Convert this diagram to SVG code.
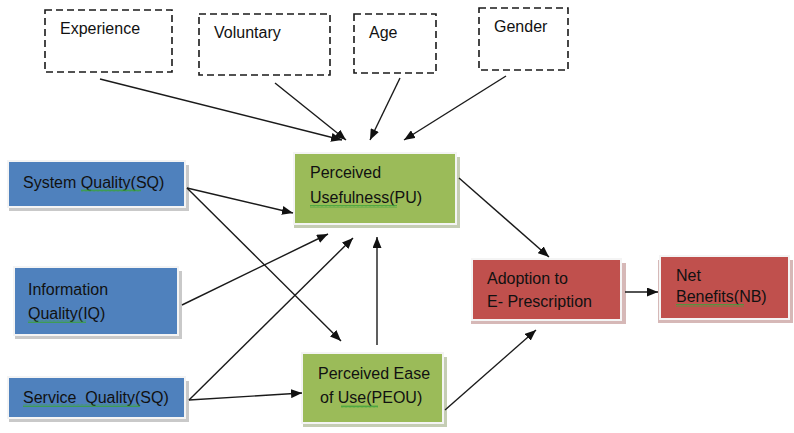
<svg xmlns="http://www.w3.org/2000/svg" width="794" height="433" viewBox="0 0 794 433">
  <style>
    text { font-family: "Liberation Sans", Arial, sans-serif; font-size: 16px; fill: #111111; white-space: pre; }
    .dash { fill: #ffffff; stroke: #1a1a1a; stroke-width: 1.6; stroke-dasharray: 7 4; }
    .shadow { fill: #c9c9c9; }
    .blue { fill: #4f81bd; stroke: #f4f4f4; stroke-width: 2; }
    .green { fill: #9bbb59; stroke: #f4f4f4; stroke-width: 2; }
    .red { fill: #c0504d; stroke: #f4f4f4; stroke-width: 2; }
    .shadow-g { fill: #c5cdb4; }
    .shadow-r { fill: #d6b8b7; }
    .edge { stroke: #1a1a1a; stroke-width: 1.4; fill: none; marker-end: url(#arrow); }
    .wave { fill: url(#squiggle); }
  </style>
  <defs>
    <marker id="arrow" viewBox="0 0 11 9" refX="11" refY="4.5" markerWidth="11" markerHeight="9" markerUnits="userSpaceOnUse" orient="auto">
      <path d="M0,0 L11,4.5 L0,9 z" fill="#111111"/>
    </marker>
    <pattern id="squiggle" width="4" height="3" patternUnits="userSpaceOnUse">
      <path d="M0,2.5 L1,0.5 L2,2.5 L3,0.5 L4,2.5" fill="none" stroke="#3aa33a" stroke-width="0.8"/>
    </pattern>
  </defs>

  <rect width="794" height="433" fill="#ffffff"/>

  <!-- moderating factors -->
  <g id="experience">
    <rect class="dash" x="45" y="10" width="127" height="62"/>
    <text x="60" y="34">Experience</text>
  </g>
  <g id="voluntary">
    <rect class="dash" x="199" y="14" width="131" height="61"/>
    <text x="214" y="38">Voluntary</text>
  </g>
  <g id="age">
    <rect class="dash" x="354" y="14" width="82" height="59"/>
    <text x="369" y="38">Age</text>
  </g>
  <g id="gender">
    <rect class="dash" x="479" y="8" width="89" height="62"/>
    <text x="494" y="32">Gender</text>
  </g>

  <!-- quality inputs -->
  <g id="system-quality">
    <rect class="shadow" x="9" y="165" width="180" height="46"/>
    <rect class="blue" x="8" y="161" width="177" height="46"/>
    <text x="23" y="188">System Quality(SQ)</text>
    <rect class="wave" x="81" y="189" width="60" height="3"/>
  </g>
  <g id="information-quality">
    <rect class="shadow" x="15" y="271" width="167" height="68"/>
    <rect class="blue" x="14" y="267" width="164" height="68"/>
    <text x="28" y="295">Information</text>
    <text x="28" y="319">Quality(IQ)</text>
    <rect class="wave" x="28" y="320" width="58" height="3"/>
  </g>
  <g id="service-quality">
    <rect class="shadow" x="9" y="381" width="180" height="41"/>
    <rect class="blue" x="8" y="377" width="177" height="41"/>
    <text x="23" y="403">Service  Quality(SQ)</text>
    <rect class="wave" x="23" y="404" width="117" height="3"/>
  </g>

  <!-- beliefs -->
  <g id="perceived-usefulness">
    <rect class="shadow-g" x="294" y="157" width="166" height="71"/>
    <rect class="green" x="294" y="153" width="162" height="71"/>
    <text x="310" y="178">Perceived</text>
    <text x="310" y="203">Usefulness(PU)</text>
    <rect class="wave" x="310" y="205" width="87" height="3"/>
  </g>
  <g id="perceived-ease-of-use">
    <rect class="shadow-g" x="303" y="357" width="144" height="70"/>
    <rect class="green" x="302" y="353" width="141" height="70"/>
    <text x="318" y="379">Perceived Ease</text>
    <text x="320" y="403">of Use(PEOU)</text>
    <rect class="wave" x="341" y="405" width="37" height="3"/>
  </g>

  <!-- outcomes -->
  <g id="adoption">
    <rect class="shadow-r" x="471" y="263" width="155" height="61"/>
    <rect class="red" x="472" y="259" width="149" height="61"/>
    <text x="487" y="284">Adoption to</text>
    <text x="487" y="307">E- Prescription</text>
  </g>
  <g id="net-benefits">
    <rect class="shadow-r" x="658" y="260" width="135" height="63"/>
    <rect class="red" x="660" y="256" width="129" height="63"/>
    <text x="676" y="281">Net</text>
    <text x="676" y="302">Benefits(NB)</text>
    <rect class="wave" x="676" y="304" width="68" height="3"/>
  </g>

  <!-- relationships -->
  <g id="connectors">
    <line class="edge" x1="100" y1="79" x2="342" y2="140"/>
    <line class="edge" x1="275" y1="83" x2="346" y2="140"/>
    <line class="edge" x1="400" y1="78" x2="370" y2="140"/>
    <line class="edge" x1="506" y1="76" x2="404" y2="140"/>
    <line class="edge" x1="187" y1="188" x2="293" y2="213"/>
    <line class="edge" x1="187" y1="188" x2="341" y2="341"/>
    <line class="edge" x1="182" y1="305" x2="328" y2="234"/>
    <line class="edge" x1="189" y1="400" x2="353" y2="238"/>
    <line class="edge" x1="189" y1="400" x2="302" y2="393"/>
    <line class="edge" x1="377" y1="345" x2="377" y2="237"/>
    <line class="edge" x1="459" y1="178" x2="549" y2="257"/>
    <line class="edge" x1="445" y1="410" x2="536" y2="330"/>
    <line class="edge" x1="625" y1="292" x2="658" y2="292"/>
  </g>
</svg>
